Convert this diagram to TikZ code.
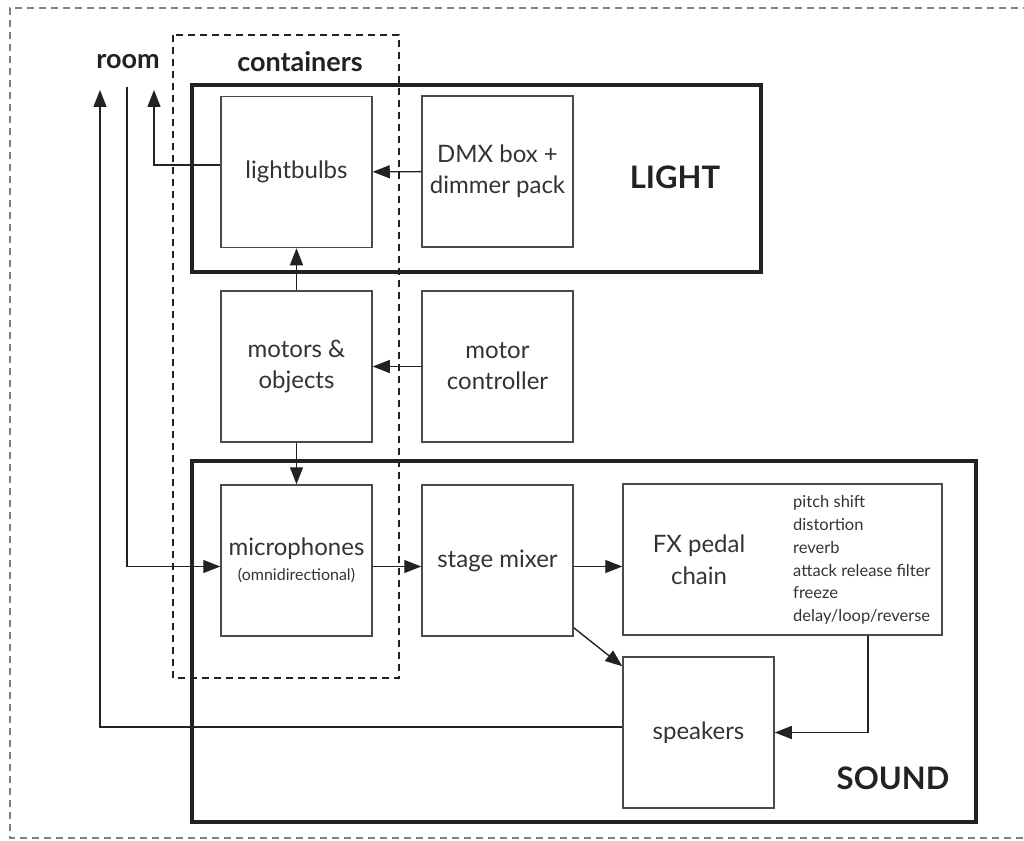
\documentclass[tikz,border=0pt]{standalone}
\usepackage{fontspec}
\setmainfont{Lato}
\usetikzlibrary{arrows.meta,calc}
\definecolor{ink}{HTML}{333333}
\definecolor{edge}{HTML}{4A4A4A}
\definecolor{heavy}{HTML}{222222}
\begin{document}
\begin{tikzpicture}[x=1pt,y=-1pt,
  blk/.style={draw=edge,line width=1.5pt,minimum width=151pt,minimum height=151pt,inner sep=0pt,align=center,text=ink,font=\fontsize{24}{31}\selectfont},
  arr/.style={draw=heavy,line width=1.4pt,-{Triangle[length=17pt,width=13pt]}},
  group/.style={draw=heavy,line width=4pt},
  head/.style={text=heavy,font=\bfseries\fontsize{27}{30}\selectfont},
  big/.style={text=heavy,font=\bfseries\fontsize{31}{34}\selectfont},
  small/.style={text=ink,font=\fontsize{16.5}{22.8}\selectfont,align=left,inner sep=0pt}]
\useasboundingbox (0,0) rectangle (1024,840);
% outer dashed frame (cropped at right)
\draw[gray,line width=1.2pt,dash pattern=on 7pt off 5pt] (1030,8) -- (10,8) -- (10,838) -- (1030,838);
% containers
\draw[heavy,line width=1.3pt,dash pattern=on 7pt off 5pt] (173,35) rectangle (399,678);
% groups
\draw[group] (192,85) rectangle (761,272);
\draw[group] (192,461) rectangle (976,822);
\node[big] (light) at (675,177) {LIGHT};
\node[big] (sound) at (893,778) {SOUND};
\node[head] (room) at (128,62) {room};
\node[head] (cont) at (300,62) {containers};
% boxes
\node[blk] (lightbulbs) at (296.5,172) {lightbulbs};
\node[blk] (dmx) at (497.5,171.5) {DMX box +\\dimmer pack};
\node[blk] (motors) at (296.5,366.5) {motors \&\\objects};
\node[blk] (motorctl) at (497.5,366.5) {motor\\controller};
\node[blk] (mic) at (296.5,560.5) {microphones\\[-6pt]{\fontsize{16}{18}\selectfont(omnidirectional)}};
\node[blk] (mixer) at (497.5,560.5) {stage mixer};
\node[blk,minimum width=319pt] (fx) at (782.5,559.5) {};
\node[text=ink,font=\fontsize{24}{32}\selectfont,align=center] (fxname) at (699,560) {FX pedal\\chain};
\node[small,anchor=west] (fxlist) at (793,560) {pitch shift\\distortion\\reverb\\attack release filter\\freeze\\delay/loop/reverse};
\node[blk] (speakers) at (698.5,732.5) {speakers};
% coordinates
\coordinate (roomout) at (100,90);
\coordinate (roomin) at (127,87);
\coordinate (lbout) at (154,90);
\coordinate (fxdrop) at (868,0);
% connectors
\draw[arr] (dmx) -- (lightbulbs);
\draw[arr] (motors) -- (lightbulbs);
\draw[arr] (motorctl) -- (motors);
\draw[arr] (motors) -- (mic);
\draw[arr] ([yshift=-6pt]mic.east) -- ([yshift=-6pt]mixer.west);
\draw[arr] ([yshift=-6pt]mixer.east) -- ([yshift=-6pt]mixer.east -| fx.west);
\draw[arr] ($(mixer.south east)+(0,-9)$) -- ($(speakers.north west)+(0,10)$);
\draw[arr] (fx.south -| fxdrop) |- (speakers.east);
\draw[arr] ([yshift=5.5pt]speakers.west) -| (roomout);
\draw[arr] (roomin) |- ([yshift=-6pt]mic.west);
\draw[arr] ([yshift=7pt]lightbulbs.west) -| (lbout);
\end{tikzpicture}
\end{document}
